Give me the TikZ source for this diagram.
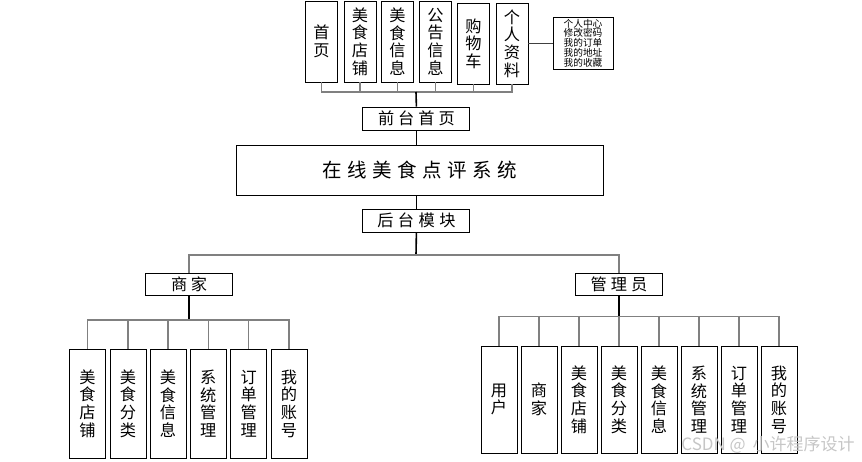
\documentclass[tikz,border=0pt]{standalone}
\usepackage{fontspec}
\setmainfont{Noto Sans CJK SC}
\begin{document}
\begin{tikzpicture}[x=1pt,y=-1pt,
  box/.style={draw=black, line width=0.9pt, inner sep=0pt, align=center, font=\fontsize{16.2}{17.6}\selectfont},
  vbox/.style={box, minimum width=32pt, minimum height=81pt},
  leafl/.style={box, minimum width=36pt, minimum height=109pt},
  leafr/.style={box, minimum width=36pt, minimum height=107pt},
  hbox/.style={box, minimum width=107pt, minimum height=23pt},
  rbox/.style={box, minimum width=87pt, minimum height=22.5pt},
  conn/.style={draw=gray, line width=1.4pt},
  stem/.style={draw=black, line width=1.6pt}]
\useasboundingbox (0,0) rectangle (862,461);
% top row
\node[vbox] (t1) at (321.5,41.5) {首\\页};
\node[vbox] (t2) at (360,41.5) {美\\食\\店\\铺};
\node[vbox] (t3) at (397.5,41.5) {美\\食\\信\\息};
\node[vbox] (t4) at (435.5,41.5) {公\\告\\信\\息};
\node[vbox] (t5) at (473.5,43.5) {购\\物\\车};
\node[vbox] (t6) at (512,43.5) {个\\人\\资\\料};
\node[box, minimum width=60pt, minimum height=52pt, font=\fontsize{9.7}{9.7}\selectfont] (sm) at (583,43) {个人中心\\修改密码\\我的订单\\我的地址\\我的收藏};
\draw[draw=black!75, line width=0.9pt] (t6.east) -- (t6.east -| sm.west);
\coordinate (bt) at (416,92);
\foreach \i in {1,...,6} {\draw[conn] (t\i.south) |- (bt);}
\node[hbox] (qt) at (416.4,118.5) {前\hspace{4pt}台\hspace{4pt}首\hspace{4pt}页};
\draw[stem] (bt) -- (qt.north);
% main
\node[box, minimum width=367pt, minimum height=50pt, font=\fontsize{19.5}{19.5}\selectfont] (main) at (419.5,170) {在\hspace{5.5pt}线\hspace{5.5pt}美\hspace{5.5pt}食\hspace{5.5pt}点\hspace{5.5pt}评\hspace{5.5pt}系\hspace{5.5pt}统};
\draw[draw=black, line width=1pt] (qt.south) -- (qt.south |- main.north);
\node[hbox] (ht) at (416.4,220.5) {后\hspace{4.5pt}台\hspace{4.5pt}模\hspace{4.5pt}块};
\draw[draw=black, line width=1pt] (ht.north |- main.south) -- (ht.north);
\coordinate (bm) at (416,255);
\draw[stem] (ht.south) -- (bm);
\node[rbox] (sj) at (189,284.5) {商\hspace{3.5pt}家};
\node[rbox] (gl) at (619,284.5) {管\hspace{4pt}理\hspace{4pt}员};
\draw[conn] (sj.north) |- (bm);
\draw[conn] (gl.north) |- (bm);
% left leaves
\node[leafl] (l1) at (87.5,403.5) {美\\食\\店\\铺};
\node[leafl] (l2) at (128,403.5) {美\\食\\分\\类};
\node[leafl] (l3) at (168,403.5) {美\\食\\信\\息};
\node[leafl] (l4) at (208.3,403.5) {系\\统\\管\\理};
\node[leafl] (l5) at (248.7,403.5) {订\\单\\管\\理};
\node[leafl] (l6) at (289,403.5) {我\\的\\账\\号};
\coordinate (bl) at (189,320);
\draw[stem] (sj.south) -- (bl);
\foreach \i in {1,...,6} {\draw[conn] (l\i.north) |- (bl);}
% right leaves
\node[leafr] (r1) at (499,399.5) {用\\户};
\node[leafr] (r2) at (539,399.5) {商\\家};
\node[leafr] (r3) at (579,399.5) {美\\食\\店\\铺};
\node[leafr] (r4) at (619,399.5) {美\\食\\分\\类};
\node[leafr] (r5) at (659,399.5) {美\\食\\信\\息};
\node[leafr] (r6) at (699,399.5) {系\\统\\管\\理};
\node[leafr] (r7) at (739,399.5) {订\\单\\管\\理};
\node[leafr] (r8) at (779,399.5) {我\\的\\账\\号};
\coordinate (br) at (619,316.7);
\draw[stem] (gl.south) -- (br);
\foreach \i in {1,...,8} {\draw[conn] (r\i.north) |- (br);}
% watermark
\node[font=\fontsize{17}{17}\selectfont, text=gray!45, inner sep=0pt] (wm) at (768,445) {CSDN @ \hspace{3pt}小许程序设计};
\end{tikzpicture}
\end{document}
